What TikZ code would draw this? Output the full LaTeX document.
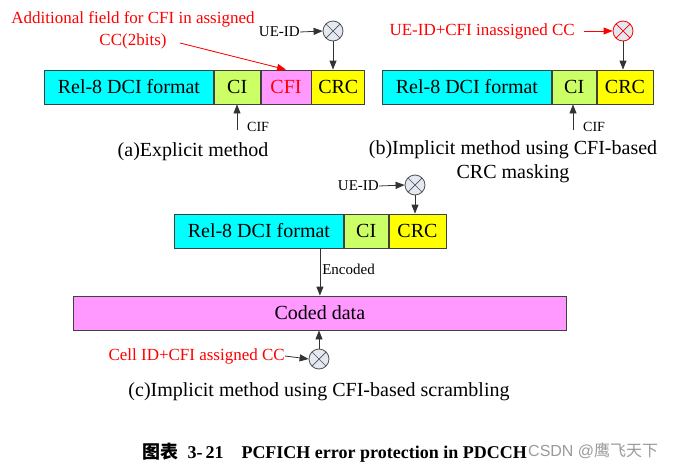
\documentclass[tikz,border=0pt]{standalone}
\usepackage{fontspec}
\setmainfont{Liberation Serif}
\newfontfamily\cjkfont{Noto Sans CJK SC}
\newfontfamily\wmfont{Liberation Sans}
\usetikzlibrary{arrows.meta,calc}
\definecolor{boxc}{HTML}{404040}
\definecolor{cyanf}{HTML}{00FFFF}
\definecolor{cigreen}{HTML}{CCFF66}
\definecolor{cfif}{HTML}{FF99FF}
\definecolor{crcf}{HTML}{FFFF00}
\definecolor{codedf}{HTML}{FF99FF}
\definecolor{mulfill}{HTML}{E4E8F0}
\definecolor{mulc}{HTML}{505050}
\definecolor{redt}{HTML}{FF0000}
\definecolor{wm}{HTML}{9A9A9A}
\tikzset{
  fld/.style={draw=boxc, line width=0.8pt, inner sep=0pt, minimum height=34pt, anchor=west,
    font=\rmfamily\fontsize{20}{24}\selectfont},
  mul/.style={circle, draw=#1, fill=mulfill, line width=0.8pt, minimum size=20pt, inner sep=0pt,
    path picture={
      \draw[#1, line width=0.7pt] ([shift={(-7.1,-7.1)}]path picture bounding box.center) -- ([shift={(7.1,7.1)}]path picture bounding box.center);
      \draw[#1, line width=0.7pt] ([shift={(-7.1,7.1)}]path picture bounding box.center) -- ([shift={(7.1,-7.1)}]path picture bounding box.center);
    }},
  mul/.default=mulc,
  arr/.style={-{Triangle[length=9pt,width=7pt]}, line width=0.8pt, draw=black!80},
  rarr/.style={-{Triangle[length=9pt,width=7pt]}, line width=0.8pt, draw=redt, fill=redt},
  lbl/.style={inner sep=0pt, font=\fontsize{15}{18}\selectfont},
  rlbl/.style={inner sep=0pt, text=redt, font=\fontsize{17}{20}\selectfont},
  capt/.style={inner sep=0pt, align=center, font=\fontsize{20}{24}\selectfont},
}
\begin{document}
\begin{tikzpicture}[x=1pt,y=-1pt]
\useasboundingbox (0,0) rectangle (680,469);
% ---------- (a) ----------
\node[fld, fill=cyanf, minimum width=169pt] (relA) at (44,87) {Rel-8 DCI format};
\node[fld, fill=cigreen, minimum width=46pt] (ciA) at (relA.east) {CI};
\node[fld, fill=cfif, minimum width=50pt, text=redt] (cfiA) at (ciA.east) {CFI};
\node[fld, fill=crcf, minimum width=53pt] (crcA) at (cfiA.east) {CRC};
\node[mul] (mulA) at (333,31) {};
\node[lbl, anchor=east] (ueA) at (300,32) {UE-ID};
\draw[arr] (ueA.east) -- (mulA.west);
\draw[arr] (mulA.south) -- (mulA.south |- crcA.north);
\coordinate (cifA) at (237,130);
\draw[arr] (cifA) -- (cifA |- ciA.south);
\node[lbl, anchor=west, font=\fontsize{14}{16}\selectfont] (cifAt) at (247,127) {CIF};
\node[rlbl, align=center] (addA) at (133,30) {Additional field for CFI in assigned\\[2pt]CC(2bits)};
\coordinate (addS) at (180,43);
\draw[rarr] (addS) -- (cfiA.north);
\node[capt] (capA) at (193,152) {(a)Explicit method};
% ---------- (b) ----------
\node[fld, fill=cyanf, minimum width=169pt] (relB) at (382,87) {Rel-8 DCI format};
\node[fld, fill=cigreen, minimum width=44pt] (ciB) at (relB.east) {CI};
\node[fld, fill=crcf, minimum width=56pt] (crcB) at (ciB.east) {CRC};
\node[mul=redt] (mulB) at (623,31) {};
\node[rlbl, anchor=east] (ueB) at (575,31) {UE-ID+CFI inassigned CC};
\draw[rarr] ([xshift=9pt]ueB.east) -- (mulB.west);
\draw[arr] (mulB.south) -- (mulB.south |- crcB.north);
\coordinate (cifB) at (573,130);
\draw[arr] (cifB) -- (cifB |- ciB.south);
\node[lbl, anchor=west, font=\fontsize{14}{16}\selectfont] (cifBt) at (583,127) {CIF};
\node[capt] (capB) at (513,162) {(b)Implicit method using CFI-based\\CRC masking};
% ---------- (c) ----------
\node[fld, fill=cyanf, minimum width=169pt] (relC) at (174,231) {Rel-8 DCI format};
\node[fld, fill=cigreen, minimum width=44pt] (ciC) at (relC.east) {CI};
\node[fld, fill=crcf, minimum width=57pt] (crcC) at (ciC.east) {CRC};
\node[mul] (mulC) at (415,185) {};
\node[lbl, anchor=east] (ueC) at (379,186) {UE-ID};
\draw[arr] (ueC.east) -- (mulC.west);
\draw[arr] (mulC.south) -- (mulC.south |- crcC.north);
\node[fld, fill=codedf, minimum width=493pt] (coded) at (73,313) {Coded data};
\draw[arr] (coded.north |- relC.south) -- node[lbl, right=2pt, pos=0.45] {Encoded} (coded.north);
\node[mul] (mulD) at (319,359) {};
\node[rlbl, anchor=east] (cellD) at (285,356) {Cell ID+CFI assigned CC};
\draw[arr] (cellD.east) -- (mulD.west);
\draw[arr] (mulD.north) -- (mulD.north |- coded.south);
\node[capt] (capC) at (319,392) {(c)Implicit method using CFI-based scrambling};
% ---------- bottom caption ----------
\node[inner sep=0pt, anchor=east, font=\fontsize{18}{20}\selectfont\bfseries] (fig) at (527,453)
  {{\cjkfont 图表}\hspace{9pt}3-\,21\hspace{18pt}PCFICH error protection in PDCCH};
\node[inner sep=0pt, anchor=west, text=wm, font=\fontsize{16}{18}\selectfont] (wmk) at (528,451)
  {\wmfont CSDN @{\cjkfont 鹰飞天下}};
\end{tikzpicture}
\end{document}
